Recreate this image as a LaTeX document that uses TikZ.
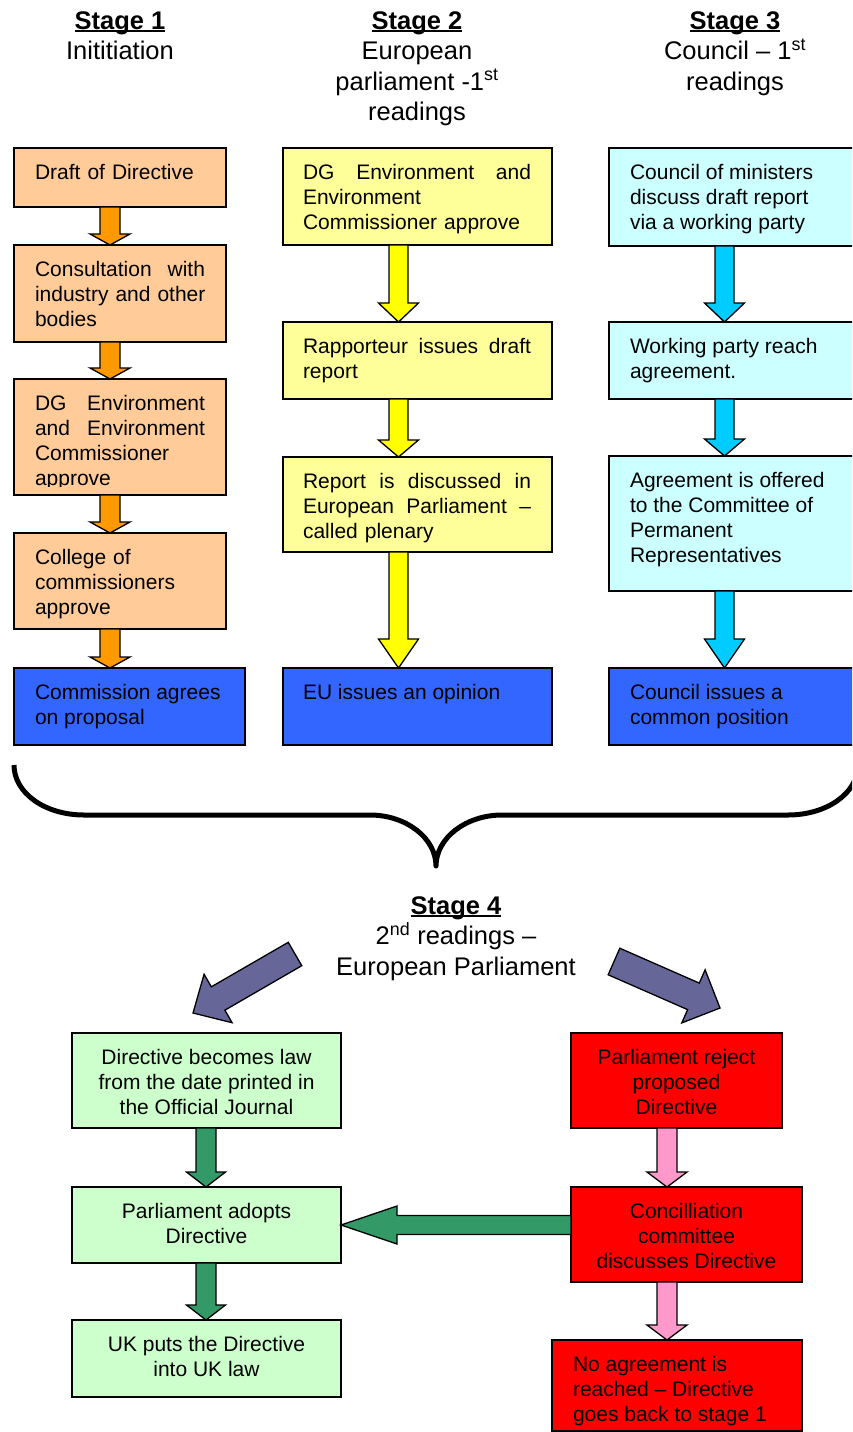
\documentclass[tikz,border=0pt]{standalone}
\usepackage{fontspec}
\setmainfont{Liberation Sans}
\usetikzlibrary{calc,fit}
\setlength\parindent{0pt}
\definecolor{peach}{HTML}{FFCC99}
\definecolor{orangeA}{HTML}{FF9900}
\definecolor{lyellow}{HTML}{FFFF99}
\definecolor{yellowA}{HTML}{FFFF00}
\definecolor{lcyan}{HTML}{CCFFFF}
\definecolor{cyanA}{HTML}{00CCFF}
\definecolor{boxblue}{HTML}{3366FF}
\definecolor{lgreen}{HTML}{CCFFCC}
\definecolor{greenA}{HTML}{339966}
\definecolor{boxred}{HTML}{FF0000}
\definecolor{pinkA}{HTML}{FF99CC}
\definecolor{purpleA}{HTML}{666699}
\newsavebox\ulbox
\newcommand\ulbf[1]{\sbox\ulbox{\bfseries #1}\rlap{\rule[-3pt]{\wd\ulbox}{1.8pt}}\usebox\ulbox}
\newcommand\fstrut{\rule{0pt}{17pt}}
\newcommand\hstrut{\rule{0pt}{21pt}}
% down block arrow: style, from, to, x centre, shaft half, head half, head length
\newcommand\dnarrow[7]{\draw[#1] let \p1=(#2.south), \p2=(#3.north) in
  ({#4pt-#5pt},\y1) -- ({#4pt+#5pt},\y1) -- ({#4pt+#5pt},\y2+#7pt) -- ({#4pt+#6pt},\y2+#7pt)
  -- (#4pt,\y2) -- ({#4pt-#6pt},\y2+#7pt) -- ({#4pt-#5pt},\y2+#7pt) -- cycle;}
\begin{document}
\begin{tikzpicture}[x=1pt,y=-1pt,
  box/.style={draw=black,line width=1.5pt,inner sep=0pt,outer sep=0pt},
  txt/.style={inner sep=0pt,outer sep=0pt,font=\fontsize{21}{25}\selectfont,align=left,anchor=north west},
  ctxt/.style={inner sep=0pt,outer sep=0pt,font=\fontsize{21}{25}\selectfont,align=center,anchor=north},
  head/.style={inner sep=0pt,outer sep=0pt,font=\fontsize{25.5}{30.5}\selectfont,align=center,anchor=north},
  blk/.style={draw=black,line width=1.3pt,line join=miter},
  s1/.style={box,fill=peach}, s2/.style={box,fill=lyellow}, s3/.style={box,fill=lcyan},
  sb/.style={box,fill=boxblue}, sg/.style={box,fill=lgreen}, sr/.style={box,fill=boxred},
  brace/.style={draw=black,line width=5pt,line join=round}]
\useasboundingbox (0,0) rectangle (852,1432);
\clip (0,0) rectangle (852,1432);
\fill[white] (0,0) rectangle (852,1432);

% headers
\node[head] (h1) at (120,8) {\hstrut\ulbf{Stage 1}\\Inititiation};
\node[head] (h2) at (417,8) {\hstrut\ulbf{Stage 2}\\European\\parliament -1\textsuperscript{st}\\readings};
\node[head] (h3) at (735,8) {\hstrut\ulbf{Stage 3}\\Council -- 1\textsuperscript{st}\\readings};
\node[head] (h4) at (456,893) {\hstrut\ulbf{Stage 4}\\2\textsuperscript{nd} readings --\\European Parliament};

% stage 1
\node[s1,fit={(14,148) (226,207)}] (a1) {};
\node[txt,text width=170pt] (a1t) at (35,162) {\fstrut Draft of Directive};
\node[s1,fit={(14,245) (226,342)}] (a2) {};
\node[txt,text width=170pt] (a2t) at (35,259) {\fstrut Consultation\hfill with\\\mbox{industry and other}\\bodies};
\node[s1,fit={(14,379) (226,495)}] (a3) {};
\begin{scope}
\clip (14,379) rectangle (226,486);
\node[txt,text width=170pt] (a3t) at (35,393) {\fstrut DG\hfill Environment\\and\hfill Environment\\Commissioner\\approve};
\end{scope}
\node[s1,fit={(14,533) (226,629)}] (a4) {};
\node[txt,text width=170pt] (a4t) at (35,547) {\fstrut College of\\commissioners\\approve};
\node[sb,fit={(14,668) (245,745)}] (a5) {};
\node[txt] (a5t) at (35,682) {\fstrut Commission agrees\\on proposal};

% stage 2
\node[s2,fit={(283,148) (552,245)}] (b1) {};
\node[txt,text width=228pt] (b1t) at (303,162) {\fstrut DG\hfill Environment\hfill and\\Environment\\Commissioner approve};
\node[s2,fit={(283,322) (552,399)}] (b2) {};
\node[txt,text width=228pt] (b2t) at (303,336) {\fstrut Rapporteur\hfill issues\hfill draft\\report};
\node[s2,fit={(283,457) (552,552)}] (b3) {};
\node[txt,text width=228pt] (b3t) at (303,471) {\fstrut Report\hfill is\hfill discussed\hfill in\\European\hfill Parliament\hfill --\\called plenary};
\node[sb,fit={(283,668) (552,745)}] (b4) {};
\node[txt] (b4t) at (303,682) {\fstrut EU issues an opinion};

% stage 3
\node[s3,fit={(609,148) (880,246)}] (c1) {};
\node[txt] (c1t) at (630,162) {\fstrut Council of ministers\\discuss draft report\\via a working party};
\node[s3,fit={(609,322) (880,399)}] (c2) {};
\node[txt] (c2t) at (630,336) {\fstrut Working party reach\\agreement.};
\node[s3,fit={(609,456) (880,591)}] (c3) {};
\node[txt] (c3t) at (630,470) {\fstrut Agreement is offered\\to the Committee of\\Permanent\\Representatives};
\node[sb,fit={(609,668) (880,745)}] (c4) {};
\node[txt] (c4t) at (630,682) {\fstrut Council issues a\\common position};

% arrows stages 1-3
\dnarrow{blk,fill=orangeA}{a1}{a2}{110}{10}{20}{11}
\dnarrow{blk,fill=orangeA}{a2}{a3}{110}{10}{20}{11}
\dnarrow{blk,fill=orangeA}{a3}{a4}{110}{10}{20}{11}
\dnarrow{blk,fill=orangeA}{a4}{a5}{110}{10}{20}{11}
\dnarrow{blk,fill=yellowA}{b1}{b2}{398.5}{9.5}{20}{19}
\dnarrow{blk,fill=yellowA}{b2}{b3}{398.5}{9.5}{20}{17}
\dnarrow{blk,fill=yellowA}{b3}{b4}{398.5}{9.5}{20}{29}
\dnarrow{blk,fill=cyanA}{c1}{c2}{724.5}{9.5}{20}{19}
\dnarrow{blk,fill=cyanA}{c2}{c3}{724.5}{9.5}{20}{17}
\dnarrow{blk,fill=cyanA}{c3}{c4}{724.5}{9.5}{20}{29}

% brace
\draw[brace] (14,765) .. controls (14,793) and (45,815) .. (84,815) -- (370,815)
  .. controls (406,815) and (436,838) .. (436,866)
  .. controls (436,838) and (466,815) .. (502,815) -- (788,815)
  .. controls (827,815) and (858,793) .. (858,765);

% stage 4 boxes
\node[sg,fit={(72,1033) (341,1128)}] (g1) {};
\node[ctxt] (g1t) at (206.5,1047) {\fstrut Directive becomes law\\from the date printed in\\the Official Journal};
\node[sg,fit={(72,1187) (341,1263)}] (g2) {};
\node[ctxt] (g2t) at (206.5,1201) {\fstrut Parliament adopts\\Directive};
\node[sg,fit={(72,1320) (341,1397)}] (g3) {};
\node[ctxt] (g3t) at (206.5,1334) {\fstrut UK puts the Directive\\into UK law};
\node[sr,fit={(571,1033) (782,1128)}] (r1) {};
\node[ctxt] (r1t) at (676.5,1047) {\fstrut Parliament reject\\proposed\\Directive};
\node[sr,fit={(571,1187) (802,1282)}] (r2) {};
\node[ctxt] (r2t) at (686.5,1201) {\fstrut Concilliation\\committee\\discusses Directive};
\node[sr,fit={(552,1340) (802,1431)}] (r3) {};
\node[txt] (r3t) at (573,1354) {\fstrut No agreement is\\reached -- Directive\\goes back to stage 1};

\dnarrow{blk,fill=greenA}{g1}{g2}{206}{10}{19.5}{15}
\dnarrow{blk,fill=greenA}{g2}{g3}{206}{10}{19.5}{15}
\dnarrow{blk,fill=pinkA}{r1}{r2}{667}{10}{20}{15}
\dnarrow{blk,fill=pinkA}{r2}{r3}{667}{10}{20}{15}

% horizontal green arrow
\draw[blk,fill=greenA] let \p1=(r2.west), \p2=(g2.east) in
  (\x1,\y2+9.5pt) -- (\x2+56pt,\y2+9.5pt) -- (\x2+56pt,\y2+19pt) -- (\x2,\y2)
  -- (\x2+56pt,\y2-19pt) -- (\x2+56pt,\y2-9.5pt) -- (\x1,\y2-9.5pt) -- cycle;

% purple diagonal arrows
\coordinate (la0) at (295,954);
\coordinate (la1) at (193,1013);
\coordinate (lab) at ($(la1)!29pt!(la0)$);
\draw[blk,fill=purpleA] ($(la0)!13.5pt!90:(la1)$) -- ($(lab)!13.5pt!-90:(la0)$) -- ($(lab)!28pt!-90:(la0)$)
  -- (la1) -- ($(lab)!28pt!90:(la0)$) -- ($(lab)!13.5pt!90:(la0)$) -- ($(la0)!13.5pt!-90:(la1)$) -- cycle;
\coordinate (ra0) at (614,961.5);
\coordinate (ra1) at (720,1008);
\coordinate (rab) at ($(ra1)!29pt!(ra0)$);
\draw[blk,fill=purpleA] ($(ra0)!14.5pt!90:(ra1)$) -- ($(rab)!14.5pt!-90:(ra0)$) -- ($(rab)!29pt!-90:(ra0)$)
  -- (ra1) -- ($(rab)!29pt!90:(ra0)$) -- ($(rab)!14.5pt!90:(ra0)$) -- ($(ra0)!14.5pt!-90:(ra1)$) -- cycle;
\end{tikzpicture}
\end{document}
